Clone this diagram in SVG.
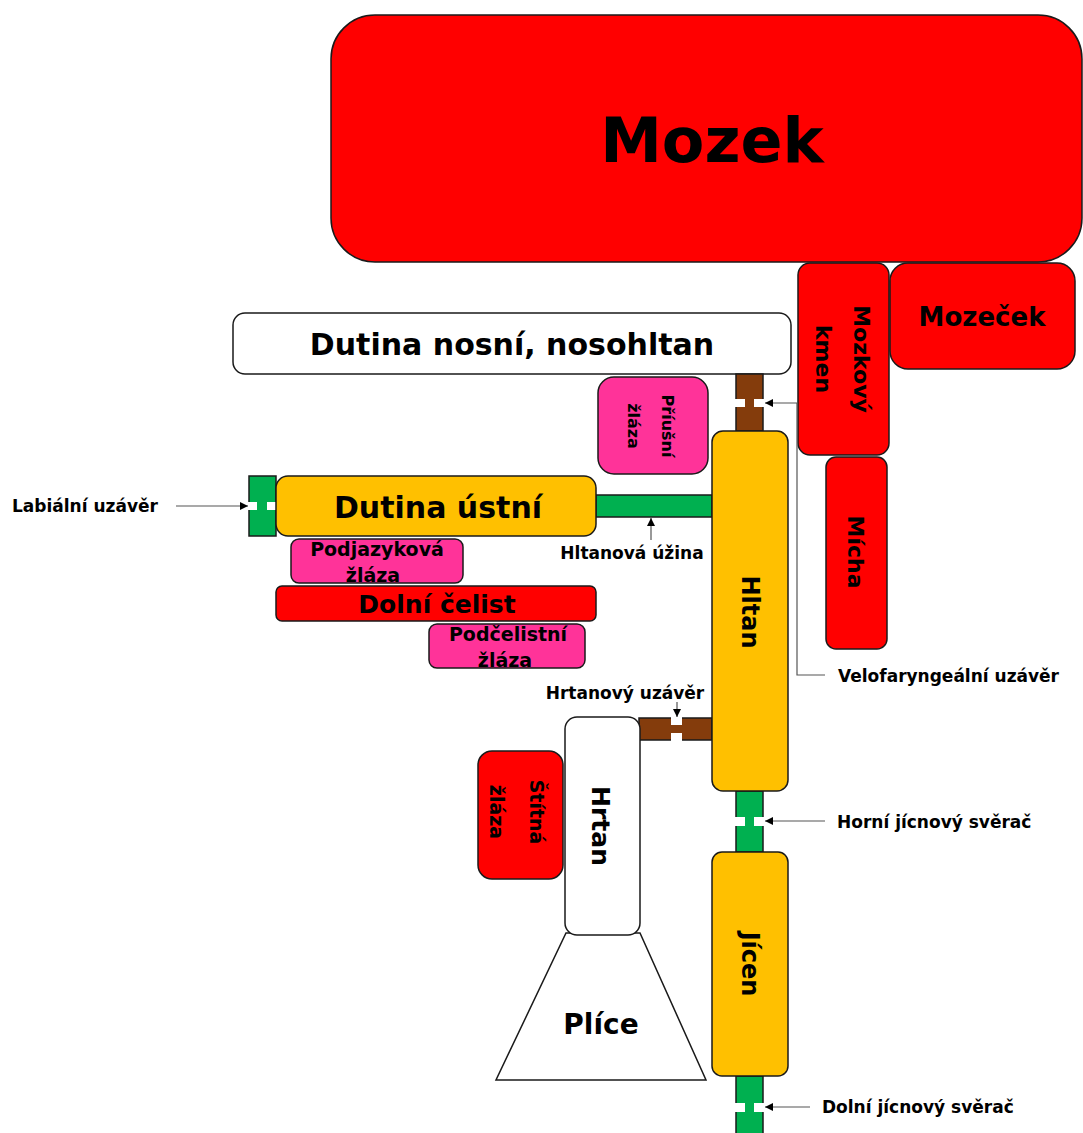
<svg xmlns="http://www.w3.org/2000/svg" width="1083" height="1133" viewBox="0 0 1083 1133">
<defs>
<style>
.b{stroke:#1a1a1a;stroke-width:1.5}
.red{fill:#FF0000}.org{fill:#FFC000}.pink{fill:#FF3399}.grn{fill:#00B050}.brn{fill:#843C0C}.wht{fill:#FFFFFF}
.gap{fill:#FFFFFF;stroke:none}
text{font-family:"DejaVu Sans","Liberation Sans",sans-serif;font-weight:bold;fill:#000}
.c{text-anchor:middle;dominant-baseline:central}
.lbl{font-size:17px;dominant-baseline:central}
.ln{fill:none;stroke:#555;stroke-width:1.2}
</style>
<marker id="ah" viewBox="0 0 10 10" refX="10" refY="5" markerWidth="8" markerHeight="8" markerUnits="userSpaceOnUse" orient="auto">
<path d="M0,0 L10,5 L0,10 z" fill="#000"/>
</marker>
</defs>
<rect width="1083" height="1133" fill="#FFFFFF"/>

<g id="mozek"><rect class="b red" x="331" y="15" width="751" height="247" rx="44"/><text class="c" x="712" y="140" font-size="62">Mozek</text></g>
<g id="mozecek"><rect class="b red" x="890" y="263" width="185" height="106" rx="18"/><text class="c" x="982" y="317" font-size="26">Mozeček</text></g>
<g id="mozkovy-kmen"><rect class="b red" x="798" y="263" width="91" height="192" rx="12"/><text class="c" font-size="22" transform="rotate(90 843 359)"><tspan x="843" y="340">Mozkový</tspan><tspan x="843" y="378">kmen</tspan></text></g>
<g id="micha"><rect class="b red" x="826" y="457" width="61" height="192" rx="10"/><text class="c" font-size="22" transform="rotate(90 855 552)" x="855" y="552">Mícha</text></g>

<g id="dutina-nosni"><rect class="b wht" x="233" y="313" width="558" height="61" rx="12"/><text class="c" x="512" y="344" font-size="30">Dutina nosní, nosohltan</text></g>
<g id="priusni"><rect class="b pink" x="598" y="377" width="110" height="97" rx="16"/><text class="c" font-size="16" transform="rotate(90 651 426)"><tspan x="651" y="409">Příušní</tspan><tspan x="651" y="443">žláza</tspan></text></g>

<g id="connectors">
<!-- velofaryngeal -->
<rect class="b brn" x="736" y="374" width="27" height="57"/>
<rect class="gap" x="735" y="399" width="10" height="8"/><rect class="gap" x="754" y="399" width="10" height="8"/>
<!-- labial -->
<rect class="b grn" x="249" y="476" width="27" height="60"/>
<rect class="gap" x="248" y="502" width="9" height="8"/><rect class="gap" x="267" y="502" width="9" height="8"/>
<!-- hltanova uzina -->
<rect class="b grn" x="596" y="495" width="116" height="22"/>
<!-- hrtanovy uzaver -->
<rect class="b brn" x="639" y="718" width="73" height="22"/>
<rect class="gap" x="671" y="717" width="11" height="8"/><rect class="gap" x="671" y="733" width="11" height="8"/>
<!-- horni jicnovy sverac -->
<rect class="b grn" x="736" y="791" width="27" height="61"/>
<rect class="gap" x="735" y="817" width="10" height="9"/><rect class="gap" x="754" y="817" width="10" height="9"/>
<!-- dolni jicnovy sverac -->
<rect class="b grn" x="736" y="1076" width="27" height="60"/>
<rect class="gap" x="735" y="1103" width="10" height="9"/><rect class="gap" x="754" y="1103" width="10" height="9"/>
<!-- pointer lines -->
<polyline class="ln" points="825,675 797,675 797,403 765,403" marker-end="url(#ah)"/>
<line class="ln" x1="176" y1="506" x2="248" y2="506" marker-end="url(#ah)"/>
<line class="ln" x1="651" y1="540" x2="651" y2="518" marker-end="url(#ah)"/>
<line class="ln" x1="677" y1="702" x2="677" y2="717" marker-end="url(#ah)"/>
<line class="ln" x1="825" y1="821" x2="765" y2="821" marker-end="url(#ah)"/>
<line class="ln" x1="810" y1="1107" x2="765" y2="1107" marker-end="url(#ah)"/>
</g>

<g id="hltan"><rect class="b org" x="712" y="431" width="76" height="360" rx="11"/><text class="c" font-size="24" transform="rotate(90 750 612)" x="750" y="612">Hltan</text></g>
<g id="dutina-ustni"><rect class="b org" x="276" y="476" width="320" height="60" rx="12"/><text class="c" x="438" y="507" font-size="30">Dutina ústní</text></g>
<g id="podjazykova"><rect class="b pink" x="291" y="539" width="172" height="44" rx="8"/><text class="c" font-size="19"><tspan x="377" y="549">Podjazyková</tspan><tspan x="373" y="575">žláza</tspan></text></g>
<g id="dolni-celist"><rect class="b red" x="276" y="586" width="320" height="35" rx="6"/><text class="c" x="437" y="604" font-size="25">Dolní čelist</text></g>
<g id="podcelistni"><rect class="b pink" x="429" y="624" width="156" height="44" rx="8"/><text class="c" font-size="19"><tspan x="508" y="634">Podčelistní</tspan><tspan x="505" y="660">žláza</tspan></text></g>

<g id="plice"><polygon class="b wht" points="566,933 640,933 706,1080 496,1080"/><text class="c" x="601" y="1024" font-size="28">Plíce</text></g>
<g id="hrtan"><rect class="b wht" x="565" y="717" width="75" height="218" rx="12"/><text class="c" font-size="25" transform="rotate(90 600 826)" x="600" y="826">Hrtan</text></g>
<g id="stitna"><rect class="b red" x="478" y="751" width="85" height="128" rx="14"/><text class="c" font-size="19" transform="rotate(90 517 812)"><tspan x="517" y="792">Štítná</tspan><tspan x="517" y="832">žláza</tspan></text></g>
<g id="jicen"><rect class="b org" x="712" y="852" width="76" height="224" rx="10"/><text class="c" font-size="24" transform="rotate(90 750 964)" x="750" y="964">Jícen</text></g>

<g id="labels">
<text class="lbl" x="12" y="506">Labiální uzávěr</text>
<text class="lbl c" x="632" y="553">Hltanová úžina</text>
<text class="lbl c" x="625" y="693">Hrtanový uzávěr</text>
<text class="lbl" x="838" y="676">Velofaryngeální uzávěr</text>
<text class="lbl" x="837" y="822">Horní jícnový svěrač</text>
<text class="lbl" x="822" y="1107">Dolní jícnový svěrač</text>
</g>
</svg>
